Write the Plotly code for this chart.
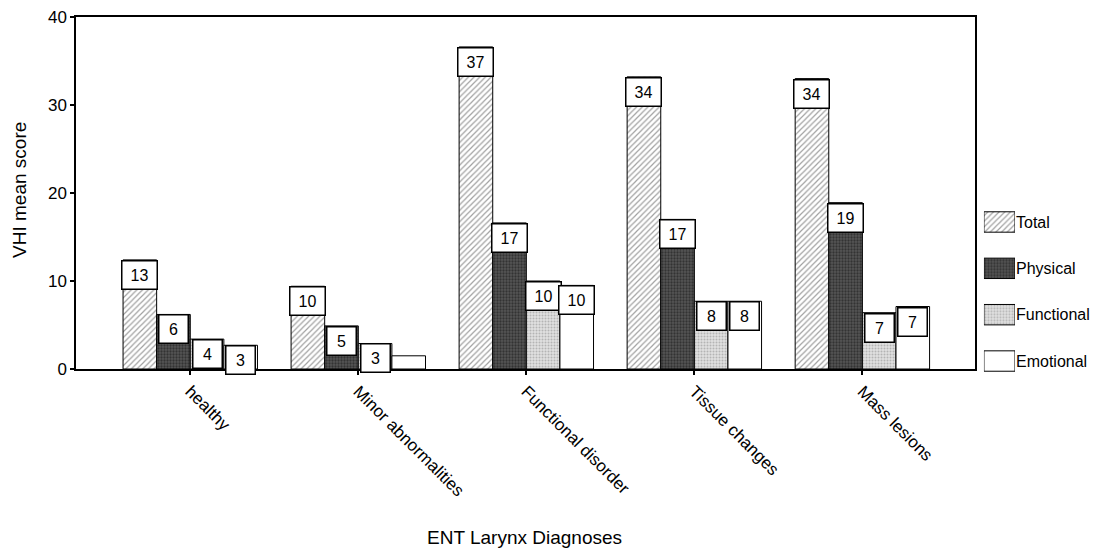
import plotly.graph_objects as go

categories = ["healthy", "Minor abnormalities", "Functional disorder", "Tissue changes", "Mass lesions"]
series = ["Total", "Physical", "Functional", "Emotional"]

# bar heights as drawn in the picture
total_h = [12.4, 9.4, 36.6, 33.2, 33.0]
physical_h = [6.2, 4.9, 16.6, 17.0, 18.9]
functional_h = [3.4, 2.9, 10.0, 7.7, 6.4]
emotional_h = [2.7, 1.5, 9.5, 7.7, 7.1]

# printed value labels
total_lbl = ["13", "10", "37", "34", "34"]
physical_lbl = ["6", "5", "17", "17", "19"]
functional_lbl = ["4", "3", "10", "8", "7"]
emotional_lbl = ["3", "", "10", "8", "7"]

heights = [total_h, physical_h, functional_h, emotional_h]
labels = [total_lbl, physical_lbl, functional_lbl, emotional_lbl]

FONT = "Liberation Sans, Arial, sans-serif"

styles = [
    dict(color="white", pattern=dict(shape="/", fgcolor="#444", bgcolor="white", size=4, solidity=0.3)),
    dict(color="#4a4a4a", pattern=dict(shape=".", fgcolor="#111", bgcolor="#555555", size=3, solidity=0.45)),
    dict(color="#d0d0d0", pattern=dict(shape=".", fgcolor="#888", bgcolor="#e0e0e0", size=3, solidity=0.35)),
    dict(color="white"),
]

W = 0.2
xs = list(range(len(categories)))
fig = go.Figure()
for k, name in enumerate(series):
    st = styles[k]
    marker = dict(color=st["color"], line=dict(color="black", width=1))
    if "pattern" in st:
        marker["pattern"] = st["pattern"]
    fig.add_trace(go.Bar(
        x=xs, y=heights[k], name=name, width=W, offset=(k - 2) * W,
        marker=marker, showlegend=False, xaxis="x", yaxis="y",
    ))
    # legend swatch
    fig.add_trace(go.Bar(
        x=[1], y=[k], base=0, orientation="h", width=0.44,
        marker=marker, showlegend=False, xaxis="x2", yaxis="y2", hoverinfo="skip",
    ))

annotations = []
for k in range(len(series)):
    for i in xs:
        t = labels[k][i]
        if not t:
            continue
        annotations.append(dict(
            x=i + (k - 1.5) * W, y=heights[k][i], xref="x", yref="y",
            text=t, showarrow=False, xanchor="center", yanchor="top",
            bgcolor="white", bordercolor="black", borderwidth=1.5, borderpad=0,
            width=34 if len(t) > 1 else 28, height=27,
            font=dict(family=FONT, size=16, color="black"),
        ))

annotations.append(dict(
    x=-0.055, y=0.546, xref="paper", yref="paper", text="VHI mean score",
    textangle=-90, showarrow=False, xanchor="center", yanchor="middle",
    font=dict(family=FONT, size=19, color="black"),
))
annotations.append(dict(
    x=0.4406, y=-0.365, xref="paper", yref="paper", text="ENT Larynx Diagnoses",
    showarrow=False, xanchor="center", yanchor="middle",
    font=dict(family=FONT, size=19, color="black"),
))

fig.update_layout(
    width=1100, height=548,
    margin=dict(l=76, r=5, t=17, b=150),
    paper_bgcolor="white", plot_bgcolor="white",
    barmode="overlay",
    font=dict(family=FONT, size=16, color="black"),
    annotations=annotations,
    xaxis=dict(
        domain=[0, 0.8822], range=[-0.68, 4.67], anchor="y",
        tickmode="array", tickvals=xs, ticktext=categories, tickangle=45,
        ticks="outside", ticklen=4, tickwidth=2, tickcolor="black",
        showline=True, linecolor="black", linewidth=1.5, mirror=True,
        showgrid=False, zeroline=False,
        tickfont=dict(family=FONT, size=17, color="black"),
    ),
    yaxis=dict(
        domain=[0.0761, 1], range=[0, 40], dtick=10, anchor="x",
        ticks="outside", ticklen=4, tickwidth=2, tickcolor="black",
        showline=True, linecolor="black", linewidth=1.5, mirror=True,
        showgrid=False, zeroline=False,
        tickfont=dict(family=FONT, size=17, color="black"),
    ),
    xaxis2=dict(domain=[0.891, 0.9215], range=[0, 1], anchor="y2", visible=False),
    yaxis2=dict(
        domain=[0.0362, 0.5228], range=[3.5, -0.5], anchor="x2", side="right",
        tickmode="array", tickvals=[0, 1, 2, 3], ticktext=series,
        ticks="", showline=False, showgrid=False, zeroline=False,
        tickfont=dict(family=FONT, size=16, color="black"),
    ),
)

fig.write_html("out.html")
